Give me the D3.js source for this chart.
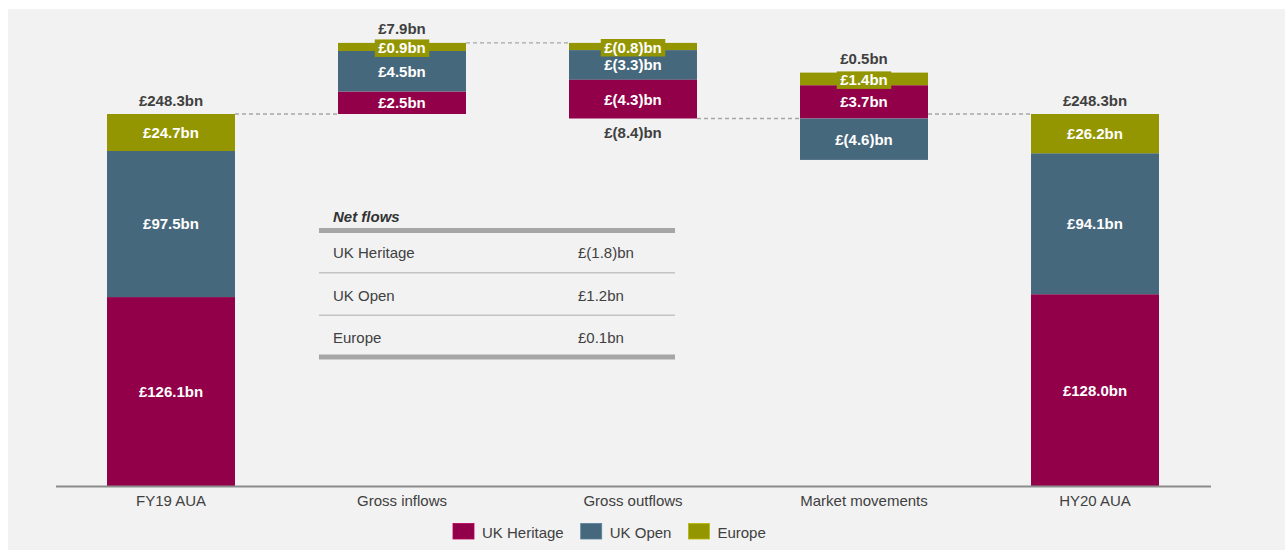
<!DOCTYPE html>
<html>
<head>
<meta charset="utf-8">
<script src="https://cdn.jsdelivr.net/npm/d3@7"></script>
<style>
  html, body { margin: 0; padding: 0; background: #ffffff; }
  svg { display: block; font-family: "Liberation Sans", Arial, Helvetica, sans-serif; }
</style>
</head>
<body>
<svg id="chart" width="1285" height="550"></svg>
<script>
// ---------------- data ----------------
const categories = ["FY19 AUA", "Gross inflows", "Gross outflows", "Market movements", "HY20 AUA"];
const seriesNames = ["UK Heritage", "UK Open", "Europe"];
const fy19 = [126.1, 97.5, 24.7];
const grossInflows = [2.5, 4.5, 0.9];
const grossOutflows = [-4.3, -3.3, -0.8];
const marketMovements = [3.7, -4.6, 1.4];
const hy20 = [128.0, 94.1, 26.2];
const netFlowTitle = "Net flows";
const netFlowNames = ["UK Heritage", "UK Open", "Europe"];
const netFlowValues = [-1.8, 1.2, 0.1];

// ---------------- styles ----------------
const colors = ["#910048", "#46687c", "#939600"];
const textDark = "#404040";

const svg = d3.select("#chart");
svg.append("rect").attr("x", 8).attr("y", 9).attr("width", 1277).attr("height", 541).attr("fill", "#f2f2f2");

const fmt = v => {
  const r = Math.round(v * 10) / 10;
  return r < 0 ? `£(${Math.abs(r).toFixed(1)})bn` : `£${r.toFixed(1)}bn`;
};

// ---------------- scales ----------------
const x = d3.scaleBand().domain(categories).range([55.5, 1210.5]).paddingInner(0.446).paddingOuter(0.223);
const startTotal = d3.sum(fy19);
const yMain = d3.scaleLinear().domain([0, startTotal]).range([486, 114]);
const flowPx = 9; // magnified scale for the flow bars
const y0 = yMain(startTotal);
const yFlow = d3.scaleLinear().domain([startTotal, startTotal + 10]).range([y0, y0 - 10 * flowPx]);

// ---------------- build segments ----------------
const bars = [];
function mainBar(cat, vals) {
  let acc = 0;
  const segs = vals.map((v, j) => { const s = { j, v, lo: acc, hi: acc + v }; acc += v; return s; });
  bars.push({ cat, segs, scale: yMain, total: d3.sum(vals), end: acc });
}
function flowBar(cat, vals, base) {
  let up = base, down = base;
  const segs = [];
  vals.forEach((v, j) => { if (v > 0) { segs.push({ j, v, lo: up, hi: up + v }); up += v; } });
  for (let j = vals.length - 1; j >= 0; j--) {
    const v = vals[j];
    if (v < 0) { segs.push({ j, v, lo: down + v, hi: down }); down += v; }
  }
  const total = d3.sum(vals);
  bars.push({ cat, segs, scale: yFlow, total, end: base + total });
  return base + total;
}
mainBar(categories[0], fy19);
let level = startTotal;
level = flowBar(categories[1], grossInflows, level);
level = flowBar(categories[2], grossOutflows, level);
level = flowBar(categories[3], marketMovements, level);
mainBar(categories[4], hy20);

// ---------------- connectors ----------------
const gConn = svg.append("g");
for (let i = 0; i < bars.length - 1; i++) {
  const yy = yFlow(bars[i].end);
  gConn.append("line")
    .attr("x1", x(bars[i].cat) + x.bandwidth()).attr("x2", x(bars[i + 1].cat))
    .attr("y1", yy).attr("y2", yy)
    .attr("stroke", "#a6a6a6").attr("stroke-width", 1.3).attr("stroke-dasharray", "4,3");
}

// ---------------- bars ----------------
const gBars = svg.append("g");
bars.forEach(b => {
  const g = gBars.append("g");
  b.segs.forEach(s => {
    const yTop = b.scale(s.hi), yBot = b.scale(s.lo);
    g.append("rect")
      .attr("x", x(b.cat)).attr("width", x.bandwidth())
      .attr("y", yTop).attr("height", yBot - yTop)
      .attr("fill", colors[s.j]);
  });
  b.segs.forEach(s => {
    const yTop = b.scale(s.hi), yBot = b.scale(s.lo);
    const cx = x(b.cat) + x.bandwidth() / 2;
    const small = (yBot - yTop) < 17;
    const cy = (yTop + yBot) / 2 + (small ? 1 : 0);
    const bg = g.append("rect");
    const t = g.append("text")
      .attr("x", cx).attr("y", cy).attr("dy", "0.36em")
      .attr("text-anchor", "middle").attr("fill", "#ffffff")
      .attr("font-size", 15).attr("font-weight", "bold")
      .text(fmt(s.v));
    if (small) {
      const w = t.node().getComputedTextLength() + 7;
      bg.attr("x", cx - w / 2).attr("width", w).attr("y", cy - 8.5).attr("height", 17.5).attr("fill", colors[s.j]);
    } else bg.remove();
  });
  const top = d3.min(b.segs, s => b.scale(s.hi));
  const bot = d3.max(b.segs, s => b.scale(s.lo));
  g.append("text")
    .attr("x", x(b.cat) + x.bandwidth() / 2)
    .attr("y", b.total >= 0 ? top - 8.5 : bot + 19)
    .attr("text-anchor", "middle").attr("fill", textDark)
    .attr("font-size", 15).attr("font-weight", "bold")
    .text(fmt(b.total));
});

// ---------------- axis ----------------
const axis = svg.append("g").attr("transform", "translate(0,486)")
  .call(d3.axisBottom(x).tickSize(0).tickSizeOuter(0).tickPadding(9.5));
axis.select(".domain").attr("stroke", "#8c8c8c").attr("stroke-width", 2);
axis.selectAll("text").attr("font-size", 15).attr("fill", textDark)
  .attr("font-family", "\"Liberation Sans\", Arial, sans-serif");

// ---------------- net flows table ----------------
const tbl = svg.append("g");
tbl.append("text").attr("x", 333).attr("y", 221.5).attr("font-size", 15)
  .attr("font-weight", "bold").attr("font-style", "italic").attr("fill", "#333333").text(netFlowTitle);
const rowY = d3.scalePoint().domain(netFlowNames).range([258, 343]);
const lineY = [230.5, 272.7, 315.3, 357];
lineY.forEach((ly, i) => {
  const thick = i === 0 || i === lineY.length - 1;
  tbl.append("line").attr("x1", 319).attr("x2", 675).attr("y1", ly).attr("y2", ly)
    .attr("stroke", thick ? "#a6a6a6" : "#c4c4c4").attr("stroke-width", thick ? 5 : 1.5);
});
netFlowNames.forEach((n, i) => {
  tbl.append("text").attr("x", 333).attr("y", rowY(n)).attr("font-size", 15).attr("fill", textDark).text(n);
  tbl.append("text").attr("x", 578).attr("y", rowY(n)).attr("font-size", 15).attr("fill", textDark).text(fmt(netFlowValues[i]));
});

// ---------------- legend ----------------
const leg = svg.append("g");
let lx = 453;
seriesNames.forEach((n, i) => {
  leg.append("rect").attr("x", lx).attr("y", 523.5).attr("width", 21).attr("height", 15.5)
    .attr("fill", colors[i]).attr("stroke", d3.color(colors[i]).brighter(0.6)).attr("stroke-width", 0.8);
  const t = leg.append("text").attr("x", lx + 29).attr("y", 537.5).attr("font-size", 15)
    .attr("fill", textDark).text(n);
  lx += 29 + t.node().getComputedTextLength() + 17;
});
</script>
</body>
</html>
